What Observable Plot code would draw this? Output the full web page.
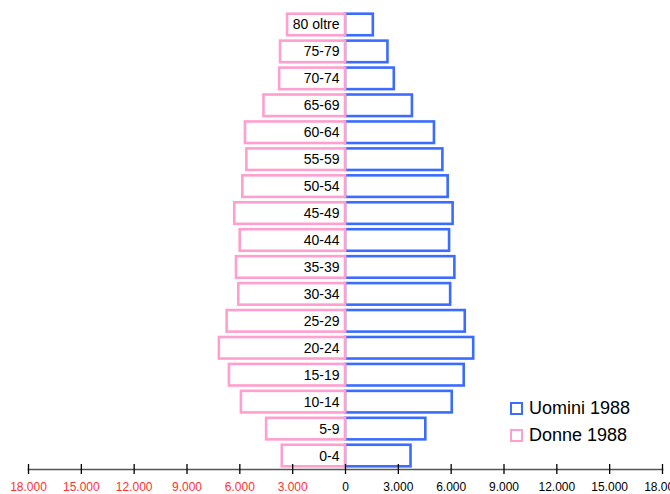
<!DOCTYPE html>
<html><head><meta charset="utf-8">
<script src="https://cdn.jsdelivr.net/npm/d3@7"></script>
<script src="https://cdn.jsdelivr.net/npm/@observablehq/plot@0.6"></script>
<style>
body{margin:0;background:#fff;font-family:"Liberation Sans",Arial,sans-serif;}
#wrap{position:relative;width:670px;height:494px;overflow:hidden;}
.legend{position:absolute;left:510px;top:395px;font-size:18px;line-height:27px;color:#000;}
.legend .row{display:flex;align-items:center;height:27px;}
.legend .sw{width:9px;height:9px;border:2.5px solid;margin-right:6px;background:#fff;}
</style></head><body><div id="wrap"></div>
<script>
const ageGroups = ["0-4","5-9","10-14","15-19","20-24","25-29","30-34","35-39","40-44","45-49","50-54","55-59","60-64","65-69","70-74","75-79","80 oltre"];
const uomini = [3720,4560,6060,6740,7280,6800,5970,6210,5910,6110,5830,5530,5050,3800,2770,2410,1580];
const donne  = [3590,4480,5910,6590,7160,6720,6060,6190,5980,6290,5830,5600,5680,4630,3740,3690,3290];
const tickValues = [-18000,-15000,-12000,-9000,-6000,-3000,0,3000,6000,9000,12000,15000,18000];
const seriesNames = ["Uomini 1988","Donne 1988"];
const colors = ["#3b6cff","#ff9fcf"];

const loc = d3.formatLocale({decimal:",", thousands:".", grouping:[3], currency:["",""]});
const fmt = d => loc.format(",")(Math.abs(d));

const male = ageGroups.map((a,i)=>({age:a, value:uomini[i]}));
const female = ageGroups.map((a,i)=>({age:a, value:-donne[i]}));

const chart = Plot.plot({
  width:670, height:494,
  marginLeft:28, marginRight:8, marginTop:11, marginBottom:25,
  style:{fontFamily:"'Liberation Sans', Arial, sans-serif", background:"#fff"},
  x:{domain:[-18000,18000], axis:null, label:null},
  y:{domain:ageGroups.slice().reverse(), paddingInner:0.2, paddingOuter:0.1, round:false, axis:null, label:null},
  marks:[
    Plot.barX(male, {x1:0, x2:"value", y:"age", fill:"#fff", stroke:colors[0], strokeWidth:2.6}),
    Plot.barX(female, {x1:0, x2:"value", y:"age", fill:"#fff", stroke:colors[1], strokeWidth:2.6}),
    Plot.text(female, {x:0, y:"age", text:"age", textAnchor:"end", dx:-6, fontSize:14, fill:"#000"}),
    Plot.frame({anchor:"bottom", stroke:"#555", strokeWidth:1.6}),
    Plot.axisX(tickValues, {tickSize:10, dy:-5, fill:"none", stroke:"#000", strokeWidth:1.3, label:null}),
    Plot.axisX(tickValues.filter(d=>d<0), {tickSize:0, tickPadding:13, fill:"#ff3030", fontSize:12, tickFormat:fmt, label:null}),
    Plot.axisX(tickValues.filter(d=>d>=0), {tickSize:0, tickPadding:13, fill:"#000", fontSize:12, tickFormat:fmt, label:null})
  ]
});
const wrap = document.getElementById("wrap");
wrap.appendChild(chart);
const leg = document.createElement("div");
leg.className = "legend";
seriesNames.forEach((n,i)=>{
  const r = document.createElement("div"); r.className="row";
  const s = document.createElement("span"); s.className="sw"; s.style.borderColor = colors[i];
  const t = document.createElement("span"); t.textContent = n;
  r.appendChild(s); r.appendChild(t); leg.appendChild(r);
});
wrap.appendChild(leg);
</script>
</body></html>
